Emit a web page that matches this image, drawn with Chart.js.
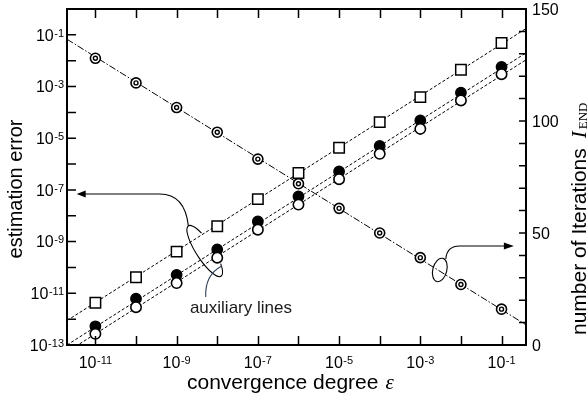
<!DOCTYPE html>
<html><head><meta charset="utf-8">
<script src="https://cdn.jsdelivr.net/npm/chart.js@4.4.0/dist/chart.umd.min.js"></script>
<style>html,body{margin:0;padding:0;background:#fff;}</style>
</head><body>
<canvas id="c" width="588" height="401"></canvas>
<script>
// ---- data ----
const epsilon    = [1e-11, 1e-10, 1e-9, 1e-8, 1e-7, 1e-6, 1e-5, 1e-4, 1e-3, 1e-2, 1e-1];
const errSquare  = [4.3e-12, 4.2e-11, 4.1e-10, 3.9e-9, 4.4e-8, 4.5e-7, 4.3e-6, 4.2e-5, 3.9e-4, 4.5e-3, 4.8e-2];
const errFilled  = [5.3e-13, 6.2e-12, 5.2e-11, 5.0e-10, 6.0e-9, 5.6e-8, 5.2e-7, 5.0e-6, 4.9e-5, 5.8e-4, 5.7e-3];
const errOpen    = [2.7e-13, 2.9e-12, 2.5e-11, 2.4e-10, 2.9e-9, 2.7e-8, 2.6e-7, 2.5e-6, 2.3e-5, 2.9e-4, 3.0e-3];
const iterations = [128, 117, 106, 95, 83, 72, 61, 50, 39, 27, 16];
// auxiliary lines: [epsilon, value] end points
const auxSquareLine = [[2e-12, 8.8e-13], [0.4, 0.175]];
const auxFilledLine = [[2e-12, 1.0e-13], [0.4, 0.020]];
const auxOpenLine   = [[2e-12, 5.4e-14], [0.4, 0.0108]];
const iterLine      = [[2e-12, 136.5], [0.4, 9]];
// axes
const xRange = [2e-12, 0.4];
const yRange = [1e-13, 1];
const iterRange = [0, 150];
const xTickExps = [-11, -10, -9, -8, -7, -6, -5, -4, -3, -2, -1];
const xLabelExps = [-11, -9, -7, -5, -3, -1];
const yTickExps = [-12, -11, -10, -9, -8, -7, -6, -5, -4, -3, -2, -1];
const yLabelExps = [-13, -11, -9, -7, -5, -3, -1];
const iterTicks = [10, 20, 30, 40, 50, 60, 70, 80, 90, 100, 110, 120, 130, 140];
const iterLabels = [0, 50, 100, 150];
const xTitle = 'convergence degree';
const xTitleSym = 'ε';
const yTitle = 'estimation error';
const y2Title = 'number of Iterations';
const auxLabel = 'auxiliary lines';

const SANS = '"Liberation Sans", Arial, sans-serif';
const SERIF = '"Liberation Serif", "Times New Roman", serif';

const pts = (xs, ys) => xs.map((x, i) => ({x: x, y: ys[i]}));
const seg = arr => arr.map(p => ({x: p[0], y: p[1]}));

function pow10(ctx, exp, x, baseY, align) {
  ctx.font = '16px ' + SANS;
  const wb = ctx.measureText('10').width;
  const es = exp < 0 ? '-' + (-exp) : String(exp);
  ctx.font = '11px ' + SANS;
  const we = ctx.measureText(es).width;
  const total = wb + 0.5 + we;
  let x0 = align === 'right' ? x - total : (align === 'center' ? x - total/2 : x);
  ctx.textAlign = 'left'; ctx.textBaseline = 'alphabetic';
  ctx.font = '16px ' + SANS;
  ctx.fillText('10', x0, baseY);
  ctx.font = '11px ' + SANS;
  ctx.fillText(es, x0 + wb + 0.5, baseY - 4);
}

// inner ring of the bullseye markers, placed on the points the library computed
const bullseye = {
  id: 'bullseye',
  afterDatasetsDraw(chart) {
    const ctx = chart.ctx;
    const meta = chart.getDatasetMeta(7);
    ctx.save();
    ctx.clip && ctx.beginPath();
    ctx.strokeStyle = '#000'; ctx.fillStyle = '#fff'; ctx.lineWidth = 1.4;
    meta.data.forEach(el => {
      ctx.beginPath(); ctx.arc(el.x, el.y, 2, 0, Math.PI*2); ctx.fill(); ctx.stroke();
    });
    ctx.restore();
  }
};

const deco = {
  id: 'deco',
  afterDraw(chart) {
    const {ctx, chartArea: a, scales} = chart;
    const X = scales.x, Y = scales.y, Y2 = scales.y2;
    ctx.save();
    ctx.strokeStyle = '#000'; ctx.fillStyle = '#000';
    // ticks (inward)
    ctx.lineWidth = 1.5;
    ctx.beginPath();
    xTickExps.forEach(e => {
      const px = Math.round(X.getPixelForValue(Math.pow(10, e))) + 0.5;
      ctx.moveTo(px, a.bottom); ctx.lineTo(px, a.bottom - 9);
      ctx.moveTo(px, a.top); ctx.lineTo(px, a.top + 9);
    });
    yTickExps.forEach(e => {
      const py = Y.getPixelForValue(Math.pow(10, e));
      ctx.moveTo(a.left, py); ctx.lineTo(a.left + 9, py);
    });
    iterTicks.forEach(v => {
      const py = Y2.getPixelForValue(v);
      ctx.moveTo(a.right, py); ctx.lineTo(a.right - 7, py);
    });
    ctx.stroke();
    // frame
    ctx.lineWidth = 2;
    ctx.strokeRect(a.left, a.top, a.right - a.left, a.bottom - a.top);

    // tick labels
    ctx.fillStyle = '#000';
    xLabelExps.forEach(e => pow10(ctx, e, X.getPixelForValue(Math.pow(10, e)), a.bottom + 22.5, 'center'));
    yLabelExps.forEach(e => pow10(ctx, e, a.left - 3, Y.getPixelForValue(Math.pow(10, e)) + 5.8, 'right'));
    ctx.font = '16px ' + SANS; ctx.textAlign = 'left'; ctx.textBaseline = 'alphabetic';
    iterLabels.forEach(v => ctx.fillText(String(v), a.right + 6, Y2.getPixelForValue(v) + 5.8));

    // axis titles
    ctx.font = '21px ' + SANS;
    ctx.textAlign = 'left';
    const xs = a.left + 120;
    ctx.fillText(xTitle, xs, 389);
    const wx = ctx.measureText(xTitle).width;
    ctx.font = 'italic 21px ' + SERIF;
    ctx.fillText(xTitleSym, xs + wx + 7, 389);

    ctx.save();
    ctx.translate(21.5, 189); ctx.rotate(-Math.PI/2);
    ctx.font = '20px ' + SANS; ctx.textAlign = 'center';
    ctx.fillText(yTitle, 0, 0);
    ctx.restore();

    ctx.save();
    ctx.translate(586, 335); ctx.rotate(-Math.PI/2);
    ctx.font = '21px ' + SANS; ctx.textAlign = 'left';
    ctx.fillText(y2Title, 0, 0);
    let w2 = ctx.measureText(y2Title).width + 10;
    ctx.font = 'italic 21px ' + SERIF;
    ctx.fillText('I', w2, 0);
    w2 += ctx.measureText('I').width + 2;
    ctx.font = '13px ' + SERIF;
    ctx.fillText('END', w2, 1);
    ctx.restore();

    // ---- annotations (anchored in data space: log10 eps, log10 error / iterations) ----
    const P = (lx, ly) => [X.getPixelForValue(Math.pow(10, lx)), Y.getPixelForValue(Math.pow(10, ly))];
    const Q = (lx, it) => [X.getPixelForValue(Math.pow(10, lx)), Y2.getPixelForValue(it)];
    ctx.lineWidth = 1.1;
    ctx.strokeStyle = '#000'; ctx.fillStyle = '#000';
    // left loop
    const c1 = P(-8.308, -9.364), rx1 = 30, ry1 = 8.5, r1 = 0.995;
    const ePt = t => [c1[0] + rx1*Math.cos(t)*Math.cos(r1) - ry1*Math.sin(t)*Math.sin(r1),
                      c1[1] + rx1*Math.cos(t)*Math.sin(r1) + ry1*Math.sin(t)*Math.cos(r1)];
    ctx.beginPath();
    ctx.ellipse(c1[0], c1[1], rx1, ry1, r1, -50*Math.PI/180, 236*Math.PI/180);
    ctx.stroke();
    const tip1 = P(-11.461, -7.159), h1 = P(-9.416, -7.159), k1 = P(-8.80, -7.159);
    const end1 = ePt(Math.PI);
    ctx.beginPath();
    ctx.moveTo(tip1[0] + 8, tip1[1]); ctx.lineTo(h1[0], h1[1]);
    ctx.quadraticCurveTo(k1[0], k1[1], end1[0], end1[1]);
    ctx.stroke();
    ctx.beginPath();
    ctx.moveTo(tip1[0], tip1[1]); ctx.lineTo(tip1[0] + 9, tip1[1] - 3.5); ctx.lineTo(tip1[0] + 9, tip1[1] + 3.5);
    ctx.closePath(); ctx.fill();
    // connector to label
    ctx.strokeStyle = '#2f3e5c';
    const s2 = P(-7.889, -9.944), k2 = P(-8.308, -10.292), e2 = P(-8.283, -11.143);
    ctx.beginPath(); ctx.moveTo(s2[0], s2[1]); ctx.quadraticCurveTo(k2[0], k2[1], e2[0], e2[1]); ctx.stroke();
    ctx.fillStyle = '#1a1a1a';
    ctx.font = '17px ' + SANS; ctx.textAlign = 'left';
    const lp = P(-8.673, -11.762);
    ctx.fillText(auxLabel, lp[0], lp[1]);
    // right loop
    ctx.strokeStyle = '#000'; ctx.fillStyle = '#000';
    const c3 = Q(-2.52, 33.5);
    ctx.beginPath(); ctx.ellipse(c3[0], c3[1], 7, 12, 0.25, 0, Math.PI*2); ctx.stroke();
    const s3 = Q(-2.372, 38.4), k3 = Q(-2.347, 44.2), e3 = Q(-2.027, 44.2), tip3 = Q(-0.697, 44.2);
    ctx.beginPath(); ctx.moveTo(s3[0], s3[1]); ctx.quadraticCurveTo(k3[0], k3[1], e3[0], e3[1]);
    ctx.lineTo(tip3[0] - 8, tip3[1]); ctx.stroke();
    ctx.beginPath();
    ctx.moveTo(tip3[0], tip3[1]); ctx.lineTo(tip3[0] - 10, tip3[1] - 3.5); ctx.lineTo(tip3[0] - 10, tip3[1] + 3.5);
    ctx.closePath(); ctx.fill();
    ctx.restore();
  }
};

const lineDs = (data, axis, dash) => ({
  type: 'line', data: data, yAxisID: axis, borderColor: '#000', borderWidth: 1,
  borderDash: dash, pointRadius: 0, fill: false, order: 10, tension: 0
});

new Chart(document.getElementById('c'), {
  type: 'line',
  data: {
    datasets: [
      lineDs(seg(auxSquareLine), 'y', [3, 2]),
      lineDs(seg(auxFilledLine), 'y', [3, 2]),
      lineDs(seg(auxOpenLine), 'y', [3, 2]),
      lineDs(seg(iterLine), 'y2', [7, 2, 1.5, 2]),
      { data: pts(epsilon, errFilled), yAxisID: 'y', showLine: false, pointStyle: 'circle', pointRadius: 5.2,
        pointBackgroundColor: '#000', pointBorderColor: '#000', pointBorderWidth: 1.4, order: 5 },
      { data: pts(epsilon, errOpen), yAxisID: 'y', showLine: false, pointStyle: 'circle', pointRadius: 5.2,
        pointBackgroundColor: '#fff', pointBorderColor: '#000', pointBorderWidth: 1.6, order: 4 },
      { data: pts(epsilon, errSquare), yAxisID: 'y', showLine: false, pointStyle: 'rect', pointRadius: 7.4,
        pointBackgroundColor: '#fff', pointBorderColor: '#000', pointBorderWidth: 1.5, order: 3 },
      { data: pts(epsilon, iterations), yAxisID: 'y2', showLine: false, pointStyle: 'circle', pointRadius: 5,
        pointBackgroundColor: '#fff', pointBorderColor: '#000', pointBorderWidth: 1.6, order: 1 }
    ]
  },
  options: {
    responsive: false, animation: false, devicePixelRatio: 1,
    layout: { padding: { top: 9, left: 0, right: 0, bottom: 0 } },
    plugins: { legend: { display: false }, tooltip: { enabled: false }, title: { display: false } },
    scales: {
      x: { type: 'logarithmic', position: 'bottom', min: xRange[0], max: xRange[1],
           ticks: { display: false }, grid: { display: false }, border: { display: false },
           afterFit: s => { s.height = 56; } },
      y: { type: 'logarithmic', position: 'left', min: yRange[0], max: yRange[1],
           ticks: { display: false }, grid: { display: false }, border: { display: false },
           afterFit: s => { s.width = 67; } },
      y2: { type: 'linear', position: 'right', min: iterRange[0], max: iterRange[1],
           ticks: { display: false }, grid: { display: false }, border: { display: false },
           afterFit: s => { s.width = 62; } }
    }
  },
  plugins: [bullseye, deco]
});
</script>
</body></html>
